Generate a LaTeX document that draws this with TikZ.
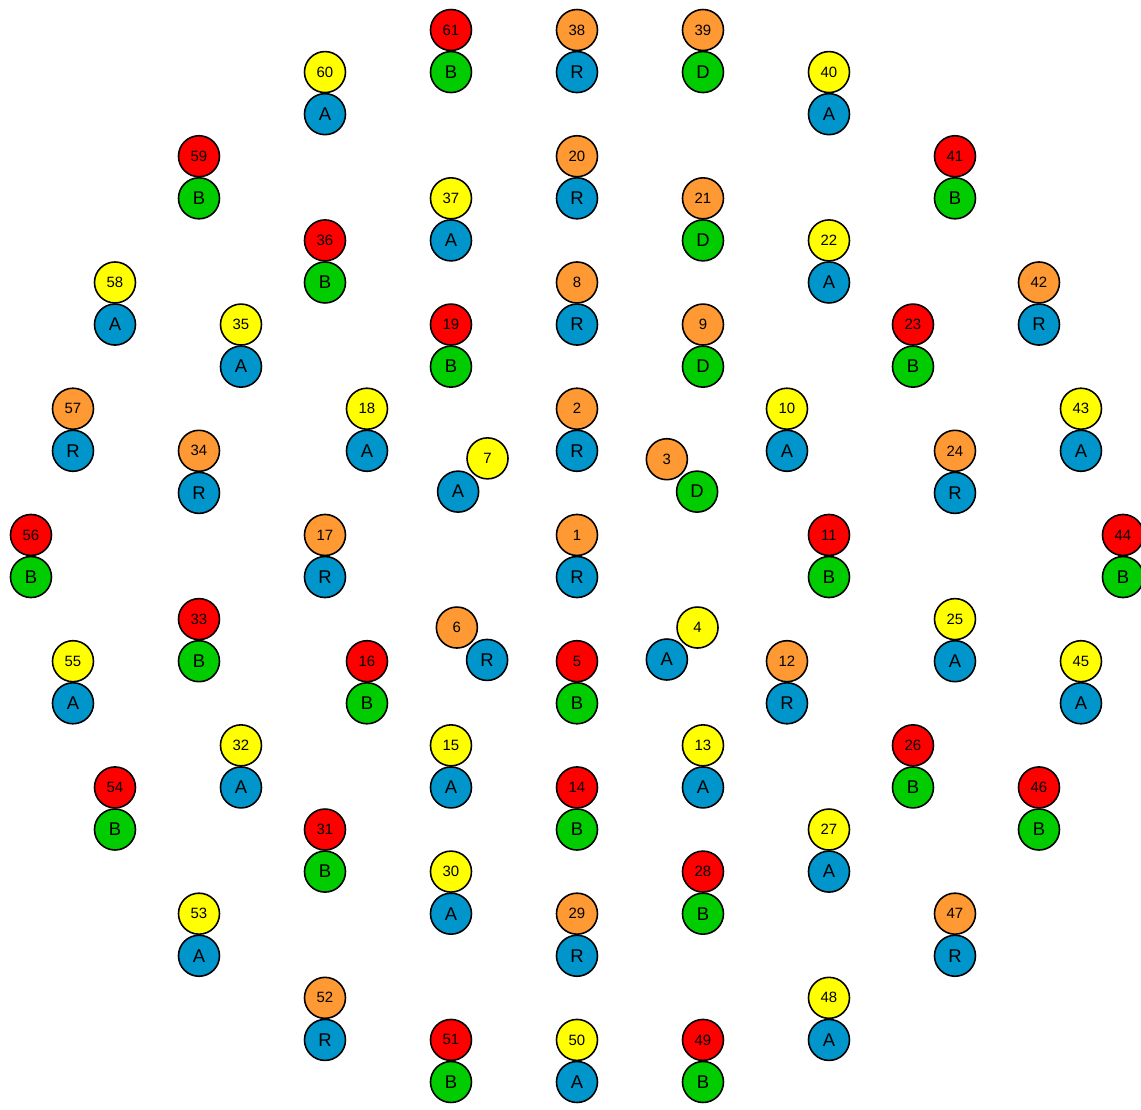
\documentclass[tikz,border=0pt]{standalone}
\usepackage{fontspec}
\setmainfont{Liberation Sans}
\definecolor{ballyellow}{RGB}{255,255,0}
\definecolor{ballorange}{RGB}{255,153,51}
\definecolor{ballred}{RGB}{255,0,0}
\definecolor{ballblue}{RGB}{0,150,204}
\definecolor{ballgreen}{RGB}{0,204,0}
\colorlet{topA}{ballyellow}
\colorlet{topR}{ballorange}
\colorlet{topD}{ballorange}
\colorlet{topB}{ballred}
\colorlet{botA}{ballblue}
\colorlet{botR}{ballblue}
\colorlet{botD}{ballgreen}
\colorlet{botB}{ballgreen}
\tikzset{
  ball/.style={circle, draw=black, line width=0.9pt, minimum size=0.82cm, inner sep=0pt},
  numball/.style={ball, font=\fontsize{8.5}{9}\selectfont},
  letball/.style={ball, font=\fontsize{10.5}{11}\selectfont}
}
\begin{document}
\begin{tikzpicture}[x=0.84cm, y=-0.8416cm]
  \useasboundingbox (-13.738,-0.713) rectangle (13.429,25.665);
  % pairs standing upright: number on top, letter below
  \foreach \x/\y/\n/\l in {
      -3/0/61/B, 0/0/38/R, 3/0/39/D,
      -6/1/60/A, 6/1/40/A,
      -9/3/59/B, 0/3/20/R, 9/3/41/B,
      -3/4/37/A, 3/4/21/D,
      -6/5/36/B, 6/5/22/A,
      -11/6/58/A, 0/6/8/R, 11/6/42/R,
      -8/7/35/A, -3/7/19/B, 3/7/9/D, 8/7/23/B,
      -12/9/57/R, -5/9/18/A, 0/9/2/R, 5/9/10/A, 12/9/43/A,
      -9/10/34/R, 9/10/24/R,
      -13/12/56/B, -6/12/17/R, 0/12/1/R, 6/12/11/B, 13/12/44/B,
      -9/14/33/B, 9/14/25/A,
      -12/15/55/A, -5/15/16/B, 0/15/5/B, 5/15/12/R, 12/15/45/A,
      -8/17/32/A, -3/17/15/A, 3/17/13/A, 8/17/26/B,
      -11/18/54/B, 0/18/14/B, 11/18/46/B,
      -6/19/31/B, 6/19/27/A,
      -3/20/30/A, 3/20/28/B,
      -9/21/53/A, 0/21/29/R, 9/21/47/R,
      -6/23/52/R, 6/23/48/A,
      -3/24/51/B, 0/24/50/A, 3/24/49/B}
  {
    \node[numball, fill=top\l] (num\n) at (\x,\y) {\n};
    \node[letball, fill=bot\l] (let\n) at (\x,\y+1) {\l};
  }
  % the four tilted pairs round the middle
  \foreach \x/\y/\u/\v/\n/\l in {
      -2.13/10.18/-2.83/10.97/7/A, 2.14/10.2/2.86/10.97/3/D,
      -2.86/14.2/-2.14/14.97/6/R, 2.87/14.2/2.14/14.96/4/A}
  {
    \node[numball, fill=top\l] (num\n) at (\x,\y) {\n};
    \node[letball, fill=bot\l] (let\n) at (\u,\v) {\l};
  }
\end{tikzpicture}
\end{document}
